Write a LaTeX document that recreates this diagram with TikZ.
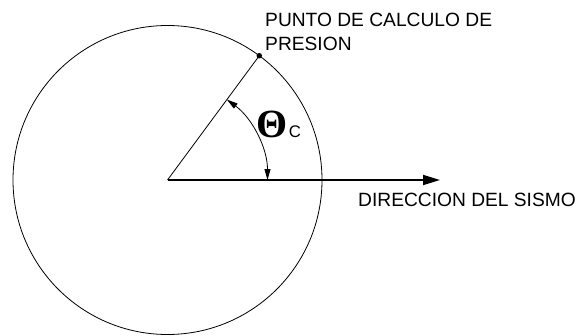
\documentclass[tikz,border=0pt]{standalone}
\usepackage{fontspec}
\setmainfont{Liberation Sans}
\newfontfamily\thfont{Liberation Serif}
\usetikzlibrary{arrows.meta,calc}
\begin{document}
\begin{tikzpicture}[x=1pt,y=1pt,
  lbl/.style={font=\fontsize{19.2}{22}\selectfont, inner sep=0pt, anchor=base west},
  thin line/.style={line width=0.8pt},
  anglearrow/.style={line width=0.8pt,{Triangle[length=11pt,width=6pt]}-{Triangle[length=11pt,width=6pt]}}]
\useasboundingbox (0,0) rectangle (577,335);
\coordinate (O) at (167.5,155);
\draw[thin line] (O) circle[radius=154.5];
\node[circle, fill=black, inner sep=0pt, minimum size=5.5pt] (P) at ($(O)+(53.55:154.5)$) {};
\draw[thin line] (O) -- (P.center);
\coordinate (E) at (440,155);
\draw[line width=1.8pt, -{Triangle[length=17pt,width=10pt]}] (O) -- (E);
\coordinate (A1) at ($(O)+(53.55:100)$);
\draw[anglearrow] (A1) arc[start angle=53.55, end angle=0, radius=100];
\node[inner sep=0pt, font=\thfont\bfseries\fontsize{40}{42}\selectfont] (th) at (272,211) {Θ};
\node[font=\fontsize{16.8}{18}\selectfont, inner sep=0pt] (c) at (295,203) {C};
\node[lbl] (t1) at (265,308) {PUNTO DE CALCULO DE};
\node[lbl] (t2) at (265,284.3) {PRESION};
\node[lbl] (t3) at (358,128.3) {DIRECCION DEL SISMO};
\end{tikzpicture}
\end{document}
